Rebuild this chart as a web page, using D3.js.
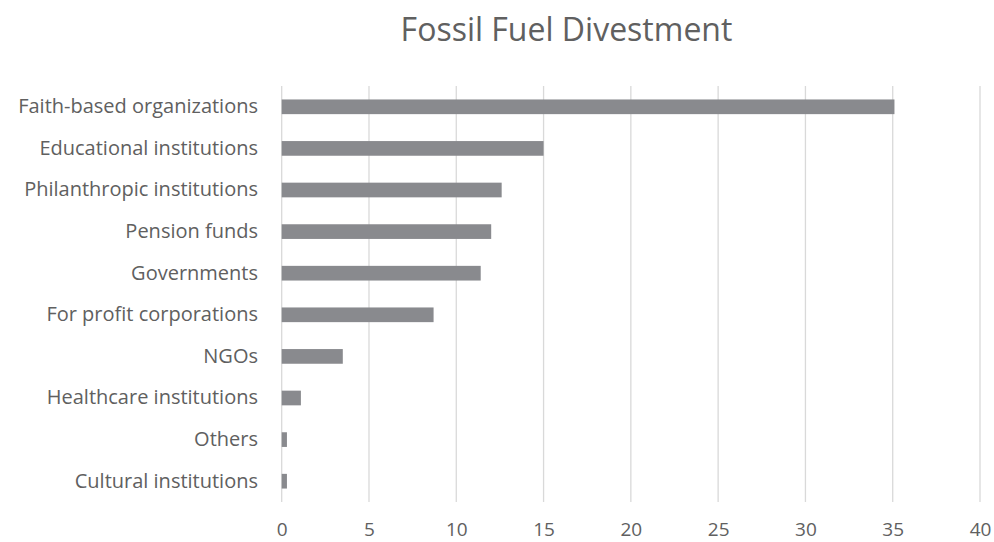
<!DOCTYPE html>
<html>
<head>
<meta charset="utf-8">
<script src="https://cdn.jsdelivr.net/npm/d3@7"></script>
<style>
  html, body { margin: 0; padding: 0; background: #ffffff; }
  svg { display: block; }
  text { font-family: "Open Sans", "Noto Sans", sans-serif; }
</style>
</head>
<body>
<svg id="chart" width="994" height="542"></svg>
<script>
const title = "Fossil Fuel Divestment";
const categories = [
  "Faith-based organizations",
  "Educational institutions",
  "Philanthropic institutions",
  "Pension funds",
  "Governments",
  "For profit corporations",
  "NGOs",
  "Healthcare institutions",
  "Others",
  "Cultural institutions"
];
const values = [35.1, 15.0, 12.6, 12.0, 11.4, 8.7, 3.5, 1.1, 0.3, 0.3];
const xTicks = [0, 5, 10, 15, 20, 25, 30, 35, 40];

const svg = d3.select("#chart");
const plotLeft = 281.7, plotRight = 980, plotTop = 86, plotBottom = 502;

const x = d3.scaleLinear().domain([0, 40]).range([plotLeft, plotRight]);
const y = d3.scaleBand().domain(categories).range([plotTop, plotBottom]).paddingInner(0.647).paddingOuter(0.3235);

const textColor = "#606060";

// gridlines
svg.append("g")
  .selectAll("line")
  .data(xTicks)
  .join("line")
  .attr("x1", d => x(d)).attr("x2", d => x(d))
  .attr("y1", plotTop).attr("y2", plotBottom)
  .attr("stroke", "#d9d9d9")
  .attr("stroke-width", 1.3);

// bars
svg.append("g")
  .selectAll("rect")
  .data(values)
  .join("rect")
  .attr("x", x(0))
  .attr("y", (d, i) => y(categories[i]))
  .attr("width", d => x(d) - x(0))
  .attr("height", y.bandwidth())
  .attr("fill", "#898a8e");

// x axis tick labels
const xAxis = d3.axisBottom(x).tickValues(xTicks).tickSize(0).tickPadding(0).tickFormat(d3.format("d"));
const gx = svg.append("g").attr("transform", `translate(0, 536)`).call(xAxis);
gx.select(".domain").remove();
gx.selectAll("text")
  .attr("dy", "0")
  .attr("fill", textColor)
  .style("font-size", "19px")
  .style("font-family", "'Open Sans', sans-serif");

// y axis category labels
const yAxis = d3.axisLeft(y).tickSize(0).tickPadding(0);
const gy = svg.append("g").attr("transform", `translate(258, 0)`).call(yAxis);
gy.select(".domain").remove();
gy.selectAll("text")
  .attr("fill", textColor)
  .style("font-size", "20px")
  .style("font-family", "'Open Sans', sans-serif");

// title
svg.append("text")
  .attr("x", 566.5)
  .attr("y", 41)
  .attr("text-anchor", "middle")
  .attr("fill", textColor)
  .style("font-size", "32px")
  .text(title);
</script>
</body>
</html>
